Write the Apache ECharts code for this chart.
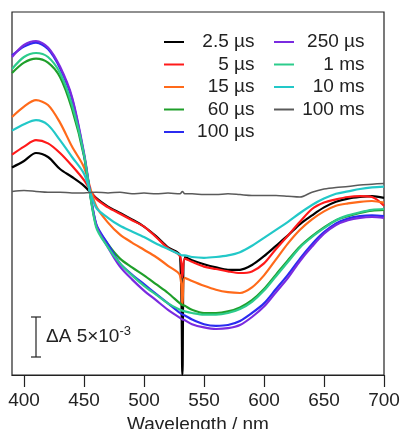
<!DOCTYPE html>
<html><head><meta charset="utf-8">
<script src="https://cdn.jsdelivr.net/npm/echarts@6/dist/echarts.min.js"></script>
<style>html,body{margin:0;padding:0;background:#fff}#c{width:401px;height:429px}</style>
</head><body><div id="c"></div><script>
// Wavelength grid (nm); values are ΔA in units of 1e-3
const wavelengths = [390,400,410,420,430,440,450,460,470,480,490,500,510,520,530,532,534,540,550,560,570,580,590,600,610,620,630,640,650,660,670,680,690,700];
const t2_5us = [3.2,4.0,5.0,4.5,3.0,2.0,0.9,-0.6,-1.7,-2.5,-3.3,-4.2,-5.4,-6.8,-7.8,-22.7,-8.0,-8.4,-8.9,-9.3,-9.6,-9.6,-9.0,-7.9,-6.6,-5.3,-3.9,-2.8,-1.8,-1.1,-0.7,-0.5,-0.4,-0.6];
const t5us   = [4.8,5.8,6.6,6.2,5.0,3.4,1.6,-0.7,-1.8,-2.6,-3.4,-4.2,-5.5,-6.9,-7.9,-10.5,-8.2,-8.6,-9.2,-9.5,-9.8,-10.0,-9.8,-8.8,-7.0,-5.3,-3.6,-2.0,-1.2,-0.8,-0.5,-0.4,-0.5,-1.6];
const t15us  = [9.5,10.8,11.6,11.0,8.8,5.8,3.2,-1.6,-3.7,-5.2,-6.2,-7.1,-8.0,-9.1,-10.3,-14.0,-10.6,-11.0,-11.6,-12.1,-12.4,-12.5,-11.8,-10.3,-8.3,-6.3,-4.6,-3.3,-2.3,-1.6,-1.3,-1.1,-1.0,-1.2];
const t60us  = [15.0,16.3,16.8,16.3,14.5,10.5,4.6,-4.0,-6.4,-8.2,-9.3,-10.3,-11.4,-12.5,-13.8,-14.0,-14.1,-14.6,-15.0,-15.0,-14.8,-14.3,-13.4,-12.0,-10.2,-8.4,-6.7,-5.4,-4.3,-3.4,-2.9,-2.5,-2.2,-2.1];
const t100us = [17.2,18.3,18.8,18.0,15.6,11.8,4.8,-3.8,-6.4,-8.8,-10.2,-11.4,-12.6,-13.8,-15.0,-15.2,-15.3,-15.8,-16.4,-16.6,-16.5,-16.0,-15.0,-13.8,-12.0,-10.2,-8.2,-6.4,-4.9,-3.8,-3.2,-2.9,-2.8,-2.9];
const t250us = [17.0,18.5,19.0,18.2,15.8,12.0,5.0,-3.9,-6.8,-9.2,-10.8,-12.2,-13.4,-14.6,-15.6,-15.8,-15.9,-16.4,-16.8,-17.0,-16.9,-16.5,-15.5,-14.2,-12.4,-10.6,-8.5,-6.7,-5.1,-4.0,-3.4,-3.1,-3.0,-3.1];
const t1ms   = [15.5,17.0,17.5,17.0,15.0,11.0,4.8,-4.2,-6.8,-8.8,-10.3,-11.6,-12.7,-13.8,-14.6,-14.7,-14.8,-15.0,-15.2,-15.2,-15.0,-14.5,-13.6,-12.2,-10.4,-8.6,-6.8,-5.5,-4.4,-3.4,-2.8,-2.4,-2.1,-2.0];
const t10ms  = [7.8,8.6,9.1,8.5,6.6,4.5,2.4,-1.8,-3.1,-4.1,-4.8,-5.5,-6.3,-7.0,-7.7,-7.8,-7.8,-8.0,-8.1,-8.0,-7.8,-7.4,-6.6,-5.6,-4.6,-3.6,-2.5,-1.5,-0.7,-0.1,0.2,0.5,0.7,0.8];
const t100ms = [0.2,0.3,0.2,0.1,0.1,0.0,0.0,0.1,0.0,0.1,-0.1,0.0,-0.1,0.0,-0.1,0.2,-0.1,-0.1,-0.2,-0.2,-0.1,-0.2,-0.3,-0.3,-0.3,-0.4,-0.5,0.1,0.5,0.7,0.8,1.0,1.1,1.2];

const seriesNames  = ['2.5 µs','5 µs','15 µs','60 µs','100 µs','250 µs','1 ms','10 ms','100 ms'];
const seriesValues = [t2_5us,t5us,t15us,t60us,t100us,t250us,t1ms,t10ms,t100ms];
const seriesColors = ['#000000','#ff1a1a','#ff6a1a','#1f9f2a','#2b2bf0','#7a2be0','#2ccc8c','#22c8c8','#5a5a5a'];
const xTicks = [400,450,500,550,600,650,700];
const scaleBar = [5]; // ΔA bar length in 1e-3

const FONT = "'Liberation Sans', Arial, sans-serif";
const chart = echarts.init(document.getElementById('c'), null, {renderer:'canvas'});

const lineSeries = seriesNames.map((n,i)=>({
  name:n, type:'line', symbol:'none', smooth:0.3,
  data: wavelengths.map((w,k)=>[w, seriesValues[i][k]]),
  lineStyle:{color:seriesColors[i], width: i===8?1.5:2.2},
  itemStyle:{color:seriesColors[i]},
  z: 2, animation:false
}));

const scaleSeries = {
  type:'custom', silent:true, animation:false, z:5,
  data:[[410, -15.5, -15.5 - scaleBar[0]]],
  renderItem(params, api){
    const p0 = api.coord([api.value(0), api.value(1)]);
    const p1 = api.coord([api.value(0), api.value(2)]);
    const st = {stroke:'#222', lineWidth:1.2};
    return {type:'group', children:[
      {type:'line', shape:{x1:p0[0],y1:p0[1],x2:p1[0],y2:p1[1]}, style:st},
      {type:'line', shape:{x1:p0[0]-5,y1:p0[1],x2:p0[0]+5,y2:p0[1]}, style:st},
      {type:'line', shape:{x1:p1[0]-5,y1:p1[1],x2:p1[0]+5,y2:p1[1]}, style:st},
      {type:'text', x:p0[0]+10, y:(p0[1]+p1[1])/2, style:{
        text:'{t|ΔA 5×10}{s|-3}', verticalAlign:'middle', align:'left',
        rich:{t:{fontSize:19, fontFamily:FONT, fill:'#222'}, s:{fontSize:13, fontFamily:FONT, fill:'#222', padding:[0,0,12,0]}}
      }}
    ]};
  }
};

const legendCommon = {
  orient:'vertical', itemWidth:29, itemHeight:2, itemGap:0.5, icon:'path://M0,0L10,0L10,1L0,1Z',
  textStyle:{fontSize:19, fontFamily:FONT, color:'#222', lineHeight:22,
    rich:{a:{width:61, align:'right', fontSize:19, fontFamily:FONT, color:'#222', lineHeight:22}}},
  formatter: n => '{a|'+n+'}',
  selectedMode:false
};

chart.setOption({
  animation:false,
  grid:{left:12, right:17, top:12, bottom:54, containLabel:false, outerBoundsMode:'none',
    show:true, borderColor:'#222', borderWidth:1.2, backgroundColor:'transparent'},
  legend:[
    Object.assign({}, legendCommon, {left:159, top:26, data:seriesNames.slice(0,5)}),
    Object.assign({}, legendCommon, {left:269, top:26, data:seriesNames.slice(5)})
  ],
  xAxis:{type:'value', min:390, max:700,
    axisLine:{show:true, onZero:false, lineStyle:{color:'#222', width:1.2}},
    axisTick:{show:true, inside:false, length:12, customValues:xTicks, lineStyle:{color:'#222', width:1.2}},
    axisLabel:{customValues:xTicks, fontSize:19, fontFamily:FONT, color:'#222', margin:16},
    splitLine:{show:false},
    name:'Wavelength / nm', nameLocation:'middle', nameGap:36,
    nameTextStyle:{fontSize:19, fontFamily:FONT, color:'#222'}
  },
  yAxis:{type:'value', min:-22.75, max:22.625, show:false, splitLine:{show:false}},
  series: lineSeries.concat([scaleSeries])
});
</script></body></html>
